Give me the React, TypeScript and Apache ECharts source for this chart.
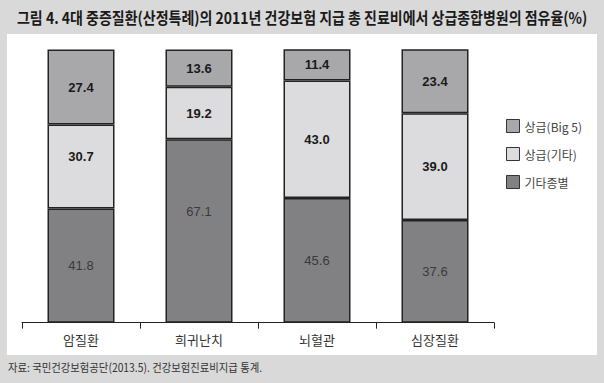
import React, { useEffect, useRef } from "react";
import * as echarts from "echarts";

const titleText = "그림 4. 4대 중증질환(산정특례)의 2011년 건강보험 지급 총 진료비에서 상급종합병원의 점유율(%)";
const sourceText = "자료: 국민건강보험공단(2013.5). 건강보험진료비지급 통계.";
const categories = ["암질환", "희귀난치", "뇌혈관", "심장질환"];
const seriesNames = ["상급(Big 5)", "상급(기타)", "기타종별"];
const bigFive = [27.4, 13.6, 11.4, 23.4];
const otherTertiary = [30.7, 19.2, 43.0, 39.0];
const otherTypes = [41.8, 67.1, 45.6, 37.6];

const FONT = "'Noto Sans CJK KR', 'Noto Sans', sans-serif";
const NUMFONT = "'Liberation Sans', Arial, sans-serif";

// label nudges (vertical pixel offsets) seen in the reference
const labelNudge: Record<string, number[]> = {
  "기타종별": [0, -19, 0, 0],
  "상급(기타)": [-10, 0, 0, 0],
  "상급(Big 5)": [0, 0, 0, 0],
};

export default function App() {
  const ref = useRef<HTMLDivElement>(null);
  useEffect(() => {
    if (!ref.current) return;
    const chart = echarts.init(ref.current, undefined, { renderer: "svg" });
    const mk = (name: string, values: number[], color: string, bold: boolean) => ({
      name,
      type: "bar",
      stack: "total",
      barWidth: 67,
      data: values.map((v, i) => ({
        value: v,
        label: { offset: [0, labelNudge[name][i]] },
      })),
      itemStyle: { color, borderColor: "#222", borderWidth: 1.5 },
      label: {
        show: true,
        position: "inside",
        formatter: (p: any) => Number(p.value).toFixed(1),
        fontFamily: NUMFONT,
        fontSize: 13,
        fontWeight: bold ? "bold" : "normal",
        color: bold ? "#1a1a1a" : "#3a3a3a",
      },
    });
    chart.setOption({
      animation: false,
      backgroundColor: "#d9d9d9",
      graphic: [
        { type: "rect", z: -10, shape: { x: 7, y: 34, width: 590, height: 321 }, style: { fill: "#ffffff" } },
        {
          type: "text",
          x: 17,
          y: 17,
          scaleX: 0.874,
          style: {
            text: titleText,
            fontFamily: FONT,
            fontSize: 16,
            fontWeight: "bold",
            fill: "#1a1a1a",
            verticalAlign: "middle",
          },
        },
        {
          type: "text",
          x: 8,
          y: 367,
          scaleX: 0.9,
          style: {
            text: sourceText,
            fontFamily: FONT,
            fontSize: 11.5,
            fill: "#333",
            verticalAlign: "middle",
          },
        },
      ],
      legend: {
        orient: "vertical",
        left: 506,
        top: 119,
        padding: 0,
        itemWidth: 13,
        itemHeight: 13,
        itemGap: 14,
        icon: "rect",
        data: seriesNames,
        itemStyle: { borderColor: "#333", borderWidth: 1 },
        textStyle: { fontFamily: FONT, fontSize: 12, color: "#444" },
      },
      grid: { left: 22, right: 110, top: 49.3, bottom: 60.3 },
      xAxis: {
        type: "category",
        data: categories,
        axisLine: { lineStyle: { color: "#222", width: 1 } },
        axisTick: { show: true, length: 6, lineStyle: { color: "#222" } },
        axisLabel: { fontFamily: FONT, fontSize: 13, color: "#333", margin: 10 },
      },
      yAxis: { type: "value", min: 0, max: 100, show: false, splitLine: { show: false } },
      series: [
        mk("기타종별", otherTypes, "#818183", false),
        mk("상급(기타)", otherTertiary, "#dcdcde", true),
        mk("상급(Big 5)", bigFive, "#a8a8aa", true),
      ],
    });
    return () => chart.dispose();
  }, []);
  return <div ref={ref} style={{ position: "absolute", left: 0, top: 0, width: 604, height: 383 }} />;
}
